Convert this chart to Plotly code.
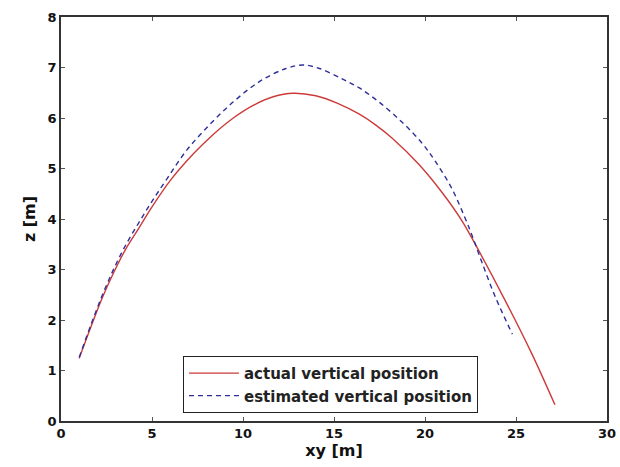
import plotly.graph_objects as go

# actual vertical position (red, solid)
actual_xy = [1.0, 1.64, 2.28, 2.91, 3.55, 4.28, 5.0, 6.0, 7.3, 8.38, 9.47, 10.56, 11.66, 12.75,
             14.0, 15.2, 16.37, 17.3, 18.2, 19.67, 20.95, 22.04, 22.58, 24.4, 25.86, 27.14]
actual_z = [1.24, 1.86, 2.45, 2.95, 3.40, 3.82, 4.24, 4.76, 5.30, 5.68, 6.00, 6.25, 6.42, 6.49,
            6.44, 6.29, 6.08, 5.86, 5.60, 5.08, 4.52, 3.96, 3.62, 2.39, 1.34, 0.32]

# estimated vertical position (blue, dashed)
est_xy = [1.0, 1.64, 2.28, 2.91, 3.55, 4.28, 5.0, 5.83, 6.9, 8.2, 9.47, 10.9, 12.36, 13.3,
          14.2, 15.48, 16.37, 17.46, 18.73, 19.84, 20.57, 21.48, 22.2, 22.58, 23.13, 23.86, 24.8]
est_z = [1.26, 1.9, 2.5, 3.02, 3.48, 3.93, 4.35, 4.80, 5.36, 5.88, 6.32, 6.72, 6.98, 7.05,
         6.98, 6.77, 6.60, 6.32, 5.92, 5.50, 5.14, 4.60, 4.02, 3.68, 3.14, 2.46, 1.72]

x_ticks = [0, 5, 10, 15, 20, 25, 30]
y_ticks = [0, 1, 2, 3, 4, 5, 6, 7, 8]

fig = go.Figure()
fig.add_trace(go.Scatter(x=actual_xy, y=actual_z, mode="lines", name="actual vertical position",
                         line=dict(color="#cc3a3a", width=1.4, shape="spline", smoothing=1.0)))
fig.add_trace(go.Scatter(x=est_xy, y=est_z, mode="lines", name="estimated vertical position",
                         line=dict(color="#2f2f9a", width=1.4, dash="5px,4px", shape="spline", smoothing=1.0)))

axis_common = dict(showgrid=False, zeroline=False, showline=True, linecolor="#333333", linewidth=1.5,
                   mirror="allticks", ticks="inside", ticklen=4, tickcolor="#555555", automargin=False,
                   tickfont=dict(family="DejaVu Sans", size=13, color="#111111", weight="bold"))

fig.update_layout(
    width=620, height=467,
    margin=dict(l=61, r=13, t=17, b=46),
    paper_bgcolor="white", plot_bgcolor="white",
    xaxis=dict(range=[0, 30], tickvals=x_ticks, ticktext=[str(v) for v in x_ticks],
               title=dict(text="xy [m]", standoff=2,
                          font=dict(family="DejaVu Sans", size=16, color="#111111", weight="bold")),
               **axis_common),
    yaxis=dict(range=[0, 8], tickvals=y_ticks, ticktext=[str(v) for v in y_ticks],
               title=dict(text="z [m]", standoff=8,
                          font=dict(family="DejaVu Sans", size=16, color="#111111", weight="bold")),
               **axis_common),
    legend=dict(x=0.2234, y=0.02, xanchor="left", yanchor="bottom",
                bordercolor="#222222", borderwidth=1, bgcolor="white",
                font=dict(family="DejaVu Sans", size=15, color="#222222", weight="bold"),
                itemwidth=50, tracegroupgap=0),
    showlegend=True,
)

fig.write_html("out.html")
